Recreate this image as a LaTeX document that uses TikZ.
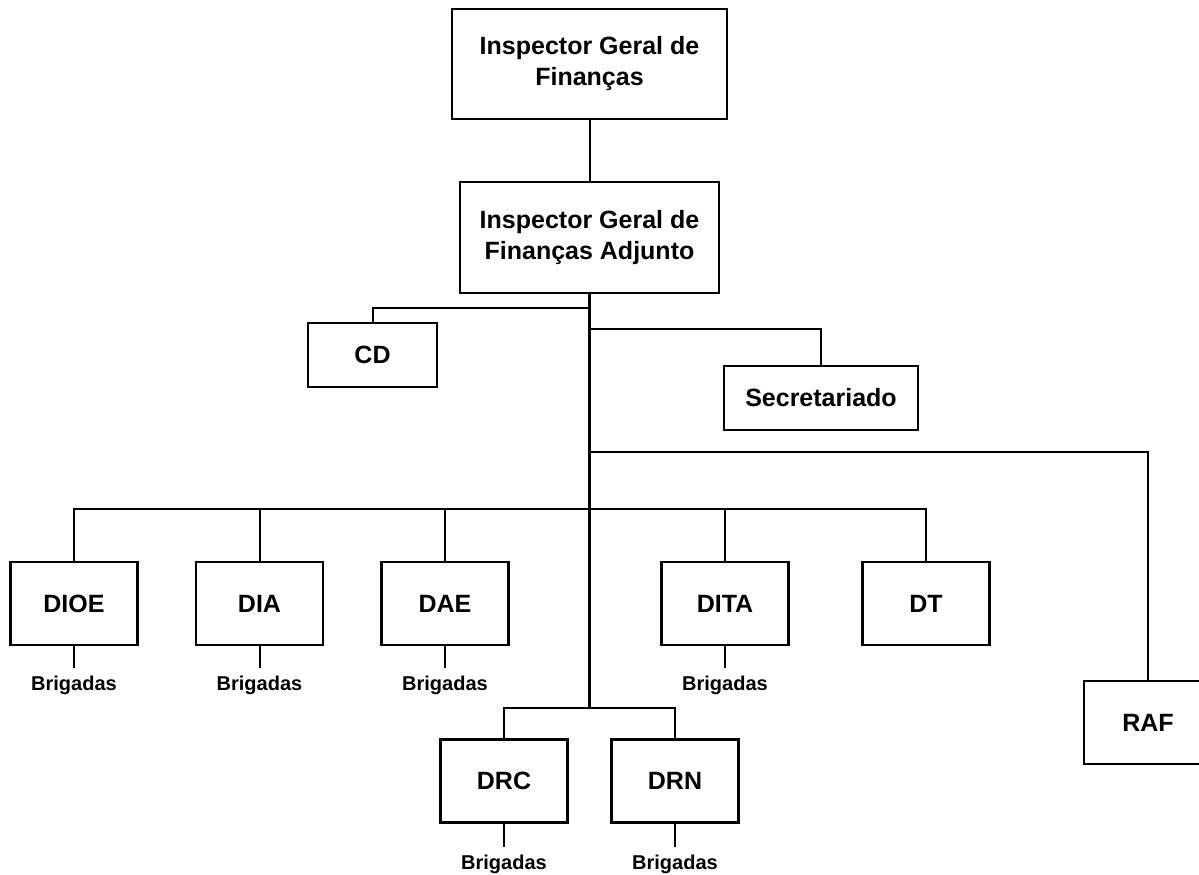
\documentclass[tikz,border=0pt]{standalone}
\usepackage{fontspec}
\setmainfont{Liberation Sans}
\begin{document}
\begin{tikzpicture}[x=1pt,y=-1pt,
  orgbox/.style={draw, line width=2.5pt, fill=white, align=center, inner sep=0pt,
    font=\bfseries\fontsize{25}{31}\selectfont},
  deptbox/.style={orgbox, minimum width=127pt, minimum height=83pt},
  brig/.style={anchor=base, inner xsep=0pt, inner ysep=7pt,
    font=\bfseries\fontsize{20}{24}\selectfont},
  link/.style={line width=2pt},
  trunk/.style={line width=3pt}]
\useasboundingbox (0,0) rectangle (1199,875);
\clip (0,0) rectangle (1199,875);

% top of the hierarchy
\node[orgbox, minimum width=275pt, minimum height=110pt] (igf) at (589.5,64)
  {Inspector Geral de\\Finanças};
\node[orgbox, minimum width=259pt, minimum height=111pt] (igfa) at (589.5,237.5)
  {Inspector Geral de\\Finanças Adjunto};

% support units
\node[orgbox, minimum width=129pt, minimum height=64pt] (cd) at (372.5,355) {CD};
\node[orgbox, minimum width=194pt, minimum height=64pt] (sec) at (821,398) {Secretariado};

% directorates
\node[deptbox] (dioe) at (74,603.5) {DIOE};
\node[deptbox] (dia)  at (259.5,603.5) {DIA};
\node[deptbox] (dae)  at (445,603.5) {DAE};
\node[deptbox] (dita) at (725,603.5) {DITA};
\node[deptbox] (dt)   at (926,603.5) {DT};
\node[deptbox] (drc)  at (504,781) {DRC};
\node[deptbox] (drn)  at (675,781) {DRN};
\node[deptbox, minimum width=128pt] (raf) at (1148,722.5) {RAF};

% brigades under the directorates
\node[brig] (bdioe) at (74,690) {Brigadas};
\node[brig] (bdia)  at (259.5,690) {Brigadas};
\node[brig] (bdae)  at (445,690) {Brigadas};
\node[brig] (bdita) at (725,690) {Brigadas};
\node[brig] (bdrc)  at (504,869) {Brigadas};
\node[brig] (bdrn)  at (675,869) {Brigadas};

% junctions on the main trunk
\coordinate (jcd)   at (589.5,308);
\coordinate (jsec)  at (589.5,329);
\coordinate (jraf)  at (589.5,452);
\coordinate (jdept) at (589.5,509);
\coordinate (jreg)  at (589.5,708);

% connectors
\draw[link] (igf.south) -- (igfa.north);
\draw[trunk] (igfa.south) -- (jreg);
\draw[link] (jcd) -| (cd.north);
\draw[link] (jsec) -| (sec.north);
\draw[link] (jraf) -| (raf.north);
\foreach \d in {dioe,dia,dae,dita,dt}
  \draw[link] (jdept) -| (\d.north);
\draw[link] (jreg) -| (drc.north);
\draw[link] (jreg) -| (drn.north);
\foreach \d in {dioe,dia,dae,dita,drc,drn}
  \draw[link] (\d.south) -- (b\d.north);
\end{tikzpicture}
\end{document}
